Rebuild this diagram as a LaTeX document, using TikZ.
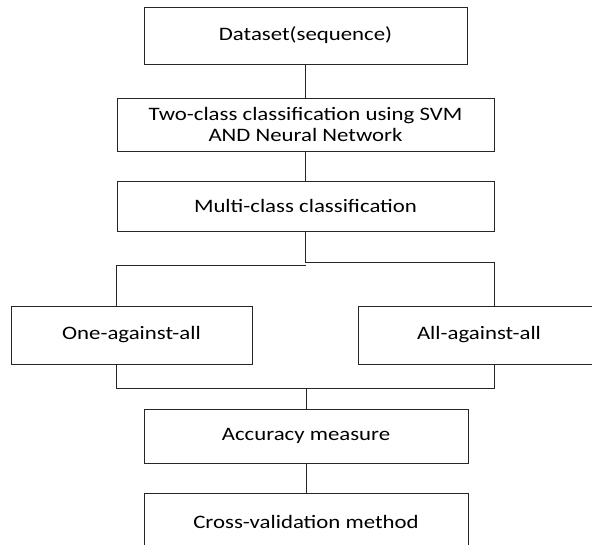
\documentclass[tikz,border=0pt]{standalone}
\usepackage{fontspec}
\setmainfont[FakeStretch=1.2]{Carlito}
\begin{document}
\begin{tikzpicture}[x=1bp,y=-1bp,
  box/.style={draw=black!85, line width=0.9bp, rectangle, inner sep=0pt,
    align=center, font=\fontsize{19bp}{21bp}\selectfont},
  link/.style={draw=black!85, line width=0.9bp}]
\clip (0,0) rectangle (592,545);
\fill[white] (0,0) rectangle (592,545);

% process boxes
\node[box, minimum width=323bp, minimum height=57bp] (data)  at (305.5,35.5) {Dataset(sequence)};
\node[box, minimum width=377bp, minimum height=53bp] (two)   at (305.5,124.5) {Two-class classification using SVM\\AND Neural Network};
\node[box, minimum width=377bp, minimum height=50bp] (multi) at (305.5,206) {Multi-class classification};
\node[box, minimum width=241bp, minimum height=58bp] (one)   at (131.5,335) {One-against-all};
\node[box, minimum width=241bp, minimum height=58bp] (all)   at (479,335) {All-against-all};
\node[box, minimum width=324bp, minimum height=54bp] (acc)   at (306,436) {Accuracy measure};
\node[box, minimum width=324bp, minimum height=58bp] (cross) at (306,522) {Cross-validation method};

% branch and join points
\coordinate (splitR) at (multi.east |- 0,262);
\coordinate (splitL) at (multi.south |- 0,265);
\coordinate (joinL)  at (multi.west |- 0,388);
\coordinate (joinR)  at (multi.east |- 0,388);
\coordinate (joinC)  at (acc.north |- 0,388);

% connectors
\draw[link] (data.south) -- (two.north);
\draw[link] (two.south) -- (multi.north);
\draw[link] (multi.south) |- (splitR) -- (splitR |- all.north);
\draw[link] (splitL) -| (multi.west |- one.north);
\draw[link] (joinL |- one.south) -- (joinL) -- (joinR) -- (joinR |- all.south);
\draw[link] (joinC) -- (acc.north);
\draw[link] (acc.south) -- (cross.north);
\end{tikzpicture}
\end{document}
